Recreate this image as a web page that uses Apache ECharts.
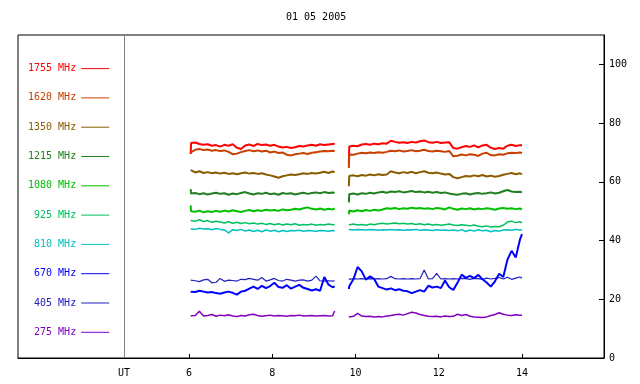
<!DOCTYPE html>
<html><head><meta charset="utf-8">
<script src="https://cdn.jsdelivr.net/npm/echarts@6/dist/echarts.min.js"></script>
<style>html,body{margin:0;padding:0;background:#fff}#c{width:640px;height:384px}</style>
</head><body><div id="c"></div>
<script>
const chartTitle = '01 05 2005';
const FONT = 'DejaVu Sans Mono';

// UT hours of the two observation segments
const times1 = [6.04,6.05,6.15,6.25,6.35,6.45,6.55,6.65,6.75,6.85,6.95,7.05,7.15,7.25,7.35,7.45,7.55,7.65,7.75,7.85,7.95,8.05,8.15,8.25,8.35,8.45,8.55,8.65,8.75,8.85,8.95,9.05,9.15,9.25,9.35,9.45,9.5];
const times2 = [9.84,9.85,9.95,10.05,10.15,10.25,10.35,10.45,10.55,10.65,10.75,10.85,10.95,11.05,11.15,11.25,11.35,11.45,11.55,11.65,11.75,11.85,11.95,12.05,12.15,12.25,12.35,12.45,12.55,12.65,12.75,12.85,12.95,13.05,13.15,13.25,13.35,13.45,13.55,13.65,13.75,13.85,13.95,14.0];
const gapTime = 9.67;

const names = ['1755 MHz','1620 MHz','1350 MHz','1215 MHz','1080 MHz','925 MHz','810 MHz','670 MHz','405 MHz','275 MHz'];
const colors = ['#ff0000','#c84000','#8a5c00','#208020','#00c000','#00c060','#00c0c0','#0000ff','#2020c0','#8000c0'];

const f1755a = [69.5,73.2,73.4,72.9,72.6,72.8,72.3,72.5,72.0,72.6,72.3,72.8,71.6,71.2,72.4,72.7,72.2,72.9,72.5,72.7,72.3,72.6,72.0,71.7,71.9,71.5,71.8,72.2,72.0,72.4,72.6,72.3,72.8,72.5,72.7,72.9,73.0];
const f1755b = [66.0,72.0,72.3,72.1,72.7,72.9,72.6,73.0,72.8,73.1,73.0,74.0,73.6,73.3,73.5,73.2,73.6,73.4,73.8,74.1,73.5,73.3,73.6,73.2,73.4,73.5,71.5,71.3,71.8,72.2,71.9,72.4,71.7,72.4,72.6,71.6,71.2,71.5,71.3,72.3,72.6,72.2,72.5,72.4];
const f1620a = [70.0,70.6,70.9,71.2,70.8,71.0,70.6,70.8,70.5,70.7,70.2,69.4,69.6,70.1,70.5,70.8,70.4,70.7,70.3,70.6,70.0,70.3,69.8,70.0,69.2,69.0,69.4,69.6,69.8,69.5,69.9,70.1,70.3,70.5,70.4,70.6,70.5];
const f1620b = [64.7,69.3,69.2,69.6,69.9,69.7,70.0,69.8,70.1,69.9,70.2,70.6,70.4,70.7,70.3,70.5,70.8,70.4,70.6,70.9,70.5,70.3,70.6,70.4,70.2,70.5,68.7,68.9,69.3,69.0,69.4,69.2,68.8,69.6,69.9,69.1,69.0,69.4,69.2,69.7,69.9,69.8,70.0,69.8];
const f1350a = [64.0,63.5,63.2,63.6,63.0,63.3,62.9,63.2,62.8,63.1,62.7,62.9,62.6,62.9,63.2,62.8,63.0,62.7,62.9,62.5,62.2,61.8,61.4,61.9,62.2,62.5,62.3,62.6,62.9,62.7,63.0,62.8,63.1,63.4,63.0,63.5,63.3];
const f1350b = [58.5,62.0,62.2,61.9,62.3,62.1,62.5,62.2,62.6,62.3,62.5,63.6,63.2,62.9,63.3,63.0,63.4,62.9,63.3,63.6,63.1,62.9,63.2,62.8,62.5,62.7,61.6,61.2,61.6,62.0,61.8,62.2,61.9,62.3,61.8,62.1,61.7,62.0,62.4,62.7,63.0,62.6,62.9,62.6];
const f1215a = [57.5,56.0,56.2,55.8,56.1,55.7,56.0,56.3,55.9,56.1,55.6,56.0,55.8,56.2,56.5,56.0,55.7,56.1,55.9,56.3,55.8,56.0,55.6,56.2,55.9,56.1,55.7,56.0,56.3,55.9,56.2,56.4,56.1,56.5,56.2,56.4,56.3];
const f1215b = [53.0,55.8,56.0,55.7,56.1,55.9,56.3,56.0,56.4,56.6,56.3,56.7,56.5,56.8,56.4,56.6,56.9,56.5,56.7,56.4,56.6,56.3,56.5,56.2,56.4,56.0,55.8,55.6,55.9,56.1,55.7,56.0,56.2,55.9,56.1,56.4,56.0,56.3,56.8,57.2,56.7,56.5,56.6,56.4];
const f1080a = [52.0,50.0,49.8,50.2,49.6,50.0,49.7,50.1,49.8,50.2,49.9,50.3,50.0,49.7,50.1,50.4,50.0,50.3,50.1,50.5,50.2,50.4,50.1,50.6,50.3,50.5,50.8,50.6,51.0,51.3,50.8,50.6,50.9,50.5,50.8,50.6,50.9];
const f1080b = [48.9,50.2,49.9,50.3,50.0,50.4,50.1,50.5,50.2,50.6,51.0,50.8,51.1,50.7,51.0,50.8,51.2,50.9,51.1,50.8,51.0,50.7,51.1,50.9,50.6,51.3,50.8,50.5,50.9,50.7,51.0,50.6,50.9,50.7,51.0,50.8,50.5,50.9,51.1,50.8,51.0,50.7,50.9,50.6];
const f925a = [46.8,46.9,46.6,47.1,46.5,46.8,46.2,46.6,46.3,46.0,46.4,45.9,46.2,45.8,46.1,45.7,46.0,45.6,45.9,45.5,45.8,45.4,45.7,45.3,45.6,45.4,45.7,45.2,45.5,45.3,45.6,45.2,45.5,45.3,45.6,45.4,45.5];
const f925b = [45.3,45.4,45.6,45.3,45.5,45.2,45.6,45.4,45.7,45.9,45.6,45.8,46.0,45.7,45.9,45.6,45.8,45.5,45.7,45.4,45.6,45.3,45.5,45.2,45.4,45.6,45.3,45.1,45.4,45.2,45.0,45.3,44.9,44.7,45.0,44.6,44.8,44.7,45.2,46.3,46.6,46.1,46.4,46.0];
const f810a = [44.0,44.1,43.8,44.2,43.9,44.0,43.7,44.1,43.8,43.6,42.6,43.7,43.4,43.8,43.2,43.6,43.1,43.5,43.0,43.6,43.2,43.5,43.0,43.4,43.1,43.4,43.3,43.5,43.2,43.4,43.3,43.2,43.4,43.3,43.2,43.4,43.3];
const f810b = [43.8,43.8,43.6,43.8,43.7,43.6,43.8,43.7,43.5,43.7,43.6,43.8,43.6,43.7,43.5,43.7,43.6,43.8,43.5,43.7,43.6,43.4,43.7,43.5,43.6,43.4,43.6,43.3,43.7,43.1,43.6,43.2,43.7,43.3,43.5,43.0,43.4,43.2,43.6,43.7,43.5,43.8,43.6,43.7];
const f670a = [22.6,22.8,22.5,22.9,22.6,22.3,22.5,22.1,21.9,22.3,22.6,22.2,21.6,22.6,22.9,23.6,24.3,23.5,24.6,23.8,24.5,25.6,24.2,23.9,24.8,23.6,24.3,24.9,23.9,23.5,23.0,23.4,22.9,27.6,25.0,24.1,24.4];
const f670b = [23.5,24.4,26.8,31.0,29.5,26.7,27.8,26.9,24.3,23.8,23.3,23.7,23.1,23.4,22.9,22.7,22.1,22.6,23.1,22.6,24.6,24.0,24.3,23.8,26.4,24.1,23.2,25.6,28.4,27.3,28.0,27.2,28.3,26.8,25.7,24.3,26.1,28.7,27.6,33.5,36.5,34.2,40.3,42.2];
const f405a = [26.5,26.5,26.3,26.0,26.6,26.8,25.6,25.8,27.1,26.1,26.5,26.4,26.2,26.8,26.7,27.1,26.8,26.5,27.4,26.2,26.6,27.1,26.4,26.2,26.8,26.5,26.2,26.5,26.6,26.2,26.5,27.9,26.3,26.2,26.3,26.2,26.3];
const f405b = [26.8,26.8,27.0,26.9,27.0,26.9,27.0,26.9,27.0,26.9,27.0,27.8,27.0,26.9,27.0,26.9,27.0,26.9,27.0,30.0,26.9,27.0,28.8,26.9,27.0,26.9,27.0,26.9,27.1,27.0,26.8,27.1,27.0,26.8,27.2,26.9,27.1,27.4,26.9,27.5,26.8,27.2,27.6,27.2];
const f275a = [14.4,14.4,14.5,15.9,14.3,14.5,14.8,14.2,14.6,14.4,14.7,14.3,14.1,14.5,14.3,14.7,14.9,14.5,14.2,14.4,14.6,14.3,14.5,14.4,14.2,14.5,14.4,14.6,14.3,14.4,14.5,14.3,14.4,14.5,14.3,14.4,16.0];
const f275b = [14.0,14.0,14.2,15.2,14.3,14.1,14.2,14.0,14.1,14.0,14.3,14.5,14.7,14.9,14.6,15.1,15.6,15.3,14.8,14.5,14.2,14.1,14.2,14.0,14.3,14.1,14.2,14.9,14.5,14.8,14.2,14.0,13.9,13.8,14.0,14.5,14.8,15.4,14.9,14.6,14.5,14.7,14.6,14.6];

const segA = [f1755a,f1620a,f1350a,f1215a,f1080a,f925a,f810a,f670a,f405a,f275a];
const segB = [f1755b,f1620b,f1350b,f1215b,f1080b,f925b,f810b,f670b,f405b,f275b];
const widths = [2,2,2,2,2,1.5,1.5,2,1.2,1.5];

const xTicks = [6,8,10,12,14];
const utPos = 4.44;
const yTicks = [0,20,40,60,80,100];

function build(a, b) {
  return times1.map((t, i) => [t, a[i]])
    .concat([[gapTime, '-']])
    .concat(times2.map((t, i) => [t, b[i]]));
}

// draw order: 670 above 405
const order = [0,1,2,3,4,5,6,8,7,9];
const series = order.map(k => ({
  name: names[k],
  type: 'line',
  symbol: 'none',
  showSymbol: false,
  data: build(segA[k], segB[k]),
  lineStyle: { color: colors[k], width: widths[k] },
  itemStyle: { color: colors[k] },
  silent: true
}));
series[0].markLine = {
  silent: true, symbol: ['none','none'],
  label: { show: false },
  lineStyle: { color: '#808080', type: 'solid', width: 1 },
  data: [{ xAxis: utPos }]
};

const chart = echarts.init(document.getElementById('c'), null, { renderer: 'canvas' });
chart.setOption({
  animation: false,
  backgroundColor: '#fff',
  title: {
    text: chartTitle, left: 281, top: 7,
    textStyle: { fontFamily: FONT, fontSize: 10, fontWeight: 'normal', color: '#000' }
  },
  legend: {
    data: names.map((n, i) => ({ name: n, textStyle: { color: colors[i] } })),
    orient: 'vertical', left: 28, top: 63, padding: 0, align: 'right',
    itemWidth: 28, itemHeight: 14, itemGap: 18.1,
    selectedMode: false,
    itemStyle: { opacity: 0 },
    lineStyle: { width: 1 },
    textStyle: { fontFamily: FONT, fontSize: 10 }
  },
  grid: { left: 18, right: 36, top: 35, bottom: 26, show: true, borderColor: '#000', borderWidth: 1 },
  xAxis: {
    type: 'value', min: 1.892, max: 15.97,
    axisLine: { lineStyle: { color: '#000', width: 1 } },
    axisTick: { inside: true, length: 4, customValues: xTicks, lineStyle: { color: '#000' } },
    axisLabel: {
      customValues: [utPos].concat(xTicks), margin: 10,
      formatter: v => (Math.abs(v - utPos) < 0.01 ? 'UT' : String(v)),
      fontFamily: FONT, fontSize: 10, color: '#000'
    },
    splitLine: { show: false }
  },
  yAxis: {
    type: 'value', position: 'right', min: 0, max: 110,
    axisLine: { show: true, lineStyle: { color: '#000', width: 1 } },
    axisTick: { show: true, inside: true, length: 5, customValues: yTicks, lineStyle: { color: '#000' } },
    axisLabel: { customValues: yTicks, margin: 5, fontFamily: FONT, fontSize: 10, color: '#000' },
    splitLine: { show: false }
  },
  series: series
});
</script>
</body></html>
